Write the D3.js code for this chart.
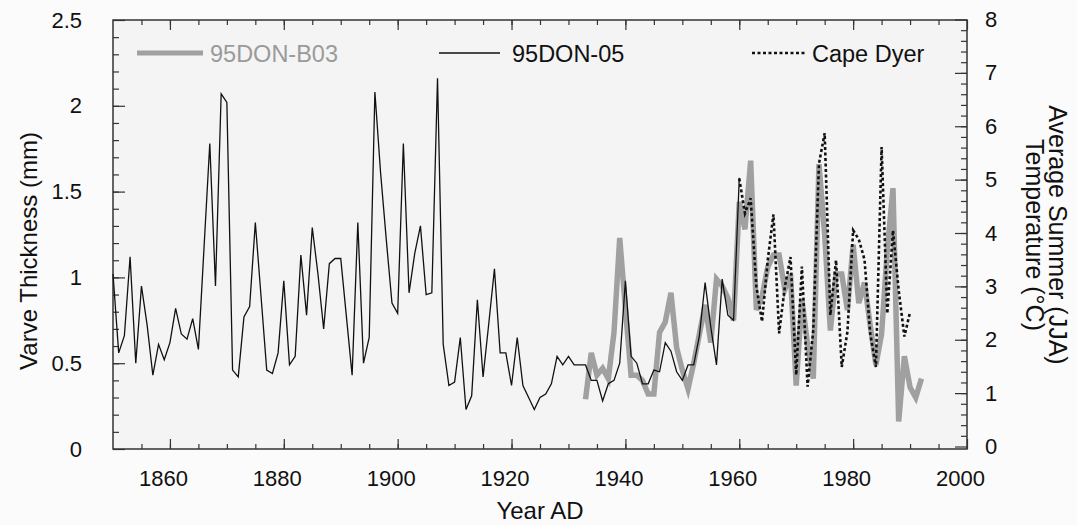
<!DOCTYPE html>
<meta charset="utf-8">
<style>
body { margin: 0; background: #fbfbfb; }
text { font-family: "Liberation Sans", Arial, sans-serif; fill: #111; }
.frame { fill: #f4f4f4; stroke: #333; stroke-width: 1.5; }
.axis line { stroke: #333; stroke-width: 1.2; }
.axis text { font-size: 22px; fill: #111; }
</style>

<script src="https://d3js.org/d3.v7.min.js"></script>

<body>
<script>

var width = 1077,
    height = 525;

// 95DON-05 varve thickness (mm), 1850-1960
var donYears = d3.range(1850, 1961);
var don05 = [
  1.02, 0.56, 0.66, 1.12, 0.50, 0.95, 0.72, 0.43, 0.61, 0.52,
  0.62, 0.82, 0.67, 0.64, 0.76, 0.58, 1.18, 1.78, 0.95, 2.07,
  2.02, 0.46, 0.42, 0.77, 0.83, 1.32, 0.89, 0.46, 0.44, 0.56,
  0.98, 0.49, 0.54, 1.13, 0.78, 1.29, 1.02, 0.70, 1.08, 1.11,
  1.11, 0.77, 0.43, 1.32, 0.50, 0.65, 2.08, 1.61, 1.22, 0.85,
  0.79, 1.78, 0.91, 1.14, 1.30, 0.90, 0.91, 2.16, 0.61, 0.37,
  0.39, 0.65, 0.23, 0.31, 0.87, 0.42, 0.73, 1.05, 0.56, 0.56,
  0.37, 0.65, 0.37, 0.30, 0.23, 0.30, 0.32, 0.38, 0.54, 0.49,
  0.54, 0.49, 0.49, 0.49, 0.40, 0.40, 0.28, 0.38, 0.40, 0.50,
  0.98, 0.54, 0.50, 0.38, 0.38, 0.46, 0.45, 0.62, 0.57, 0.45,
  0.40, 0.49, 0.49, 0.66, 0.97, 0.71, 0.49, 0.99, 0.78, 0.75,
  1.58
];

// 95DON-B03 varve thickness (mm), 1933-1992
var b03Years = d3.range(1933, 1993);
var b03 = [
  0.29, 0.56, 0.43, 0.47, 0.41, 0.68, 1.23, 0.82, 0.43, 0.43,
  0.40, 0.32, 0.32, 0.68, 0.74, 0.91, 0.59, 0.46, 0.35, 0.50,
  0.67, 0.84, 0.62, 0.99, 0.95, 0.88, 0.75, 1.44, 1.28, 1.68,
  0.81, 0.89, 1.06, 1.13, 1.13, 0.93, 1.02, 0.37, 0.87, 0.61,
  0.41, 1.66, 1.25, 0.69, 1.02, 1.02, 0.81, 1.19, 0.85, 0.97,
  0.72, 0.49, 0.67, 1.16, 1.52, 0.16, 0.54, 0.36, 0.30, 0.41
];

// Cape Dyer JJA temperature (deg C), 1960-1990
var dyerYears = d3.range(1960, 1991);
var dyer = [
  5.02, 4.37, 4.65, 3.00, 2.34, 3.49, 4.35, 2.12, 2.99, 3.55,
  1.34, 3.37, 1.12, 2.18, 5.30, 5.87, 2.46, 3.49, 1.49, 2.15,
  4.05, 3.88, 3.50, 2.12, 1.49, 5.61, 2.49, 4.05, 2.93, 2.06,
  2.52
];

var xMajor = [1860, 1880, 1900, 1920, 1940, 1960, 1980, 2000];
var yLeftMajor = [0, 0.5, 1, 1.5, 2, 2.5];
var yRightMajor = [0, 1, 2, 3, 4, 5, 6, 7, 8];

var plotL = 113, plotR = 967, plotT = 20, plotB = 449;

var svg = d3.select("body").append("svg")
    .attr("width", width)
    .attr("height", height);

var x = d3.scaleLinear().domain([1850, 2000]).range([plotL, plotR]);
var y = d3.scaleLinear().domain([0, 2.5]).range([plotB, plotT]);
var y2 = d3.scaleLinear().domain([0, 8]).range([446.5, 19.5]);

svg.append("rect")
    .attr("class", "frame")
    .attr("x", plotL)
    .attr("y", plotT)
    .attr("width", plotR - plotL)
    .attr("height", plotB - plotT);

function tidy(g) { g.select(".domain").remove(); }

// bottom + top ticks
svg.append("g").attr("class", "axis")
    .attr("transform", "translate(0," + plotB + ")")
    .call(d3.axisBottom(x).tickValues(d3.range(1855, 2000, 5)).tickSize(-5).tickFormat(""))
    .call(tidy);
svg.append("g").attr("class", "axis")
    .attr("transform", "translate(0," + plotB + ")")
    .call(d3.axisBottom(x).tickValues(xMajor).tickSize(-10).tickPadding(21).tickFormat(String))
    .call(tidy)
    .selectAll("text").attr("dx", -7);
svg.append("g").attr("class", "axis")
    .attr("transform", "translate(0," + plotT + ")")
    .call(d3.axisTop(x).tickValues(d3.range(1855, 2000, 5)).tickSize(-5).tickFormat(""))
    .call(tidy);
svg.append("g").attr("class", "axis")
    .attr("transform", "translate(0," + plotT + ")")
    .call(d3.axisTop(x).tickValues(xMajor).tickSize(-10).tickFormat(""))
    .call(tidy);

// left axis
svg.append("g").attr("class", "axis")
    .attr("transform", "translate(" + plotL + ",0)")
    .call(d3.axisLeft(y).tickValues(d3.range(0.1, 2.5, 0.1)).tickSize(-6).tickFormat(""))
    .call(tidy);
svg.append("g").attr("class", "axis")
    .attr("transform", "translate(" + plotL + ",0)")
    .call(d3.axisLeft(y).tickValues(yLeftMajor).tickSize(-12).tickPadding(31).tickFormat(String))
    .call(tidy);

// right axis
svg.append("g").attr("class", "axis")
    .attr("transform", "translate(" + plotR + ",0)")
    .call(d3.axisRight(y2).tickValues(d3.range(0.2, 8, 0.2)).tickSize(-6).tickFormat(""))
    .call(tidy);
svg.append("g").attr("class", "axis")
    .attr("transform", "translate(" + plotR + ",0)")
    .call(d3.axisRight(y2).tickValues(yRightMajor).tickSize(-12).tickPadding(18).tickFormat(String))
    .call(tidy);

var line = d3.line()
    .x(function(d) { return x(d[0]); })
    .y(function(d) { return y(d[1]); });

var line2 = d3.line()
    .x(function(d) { return x(d[0]); })
    .y(function(d) { return y2(d[1]); });

svg.append("path")
    .datum(d3.zip(b03Years, b03))
    .attr("fill", "none")
    .attr("stroke", "#a0a0a0")
    .attr("stroke-width", 5.5)
    .attr("d", line);

svg.append("path")
    .datum(d3.zip(donYears, don05))
    .attr("fill", "none")
    .attr("stroke", "#111")
    .attr("stroke-width", 1.3)
    .attr("d", line);

svg.append("path")
    .datum(d3.zip(dyerYears, dyer))
    .attr("fill", "none")
    .attr("stroke", "#111")
    .attr("stroke-width", 2.6)
    .attr("stroke-dasharray", "3,2.5")
    .attr("d", line2);

// legend
var legend = svg.append("g").attr("font-size", "23.5px");

legend.append("line")
    .attr("x1", 137).attr("x2", 203).attr("y1", 53).attr("y2", 53)
    .attr("stroke", "#a0a0a0").attr("stroke-width", 5);
legend.append("text")
    .attr("x", 210).attr("y", 61.5)
    .style("fill", "#9a9a9a")
    .text("95DON-B03");

legend.append("line")
    .attr("x1", 439).attr("x2", 500).attr("y1", 53).attr("y2", 53)
    .attr("stroke", "#111").attr("stroke-width", 1.3);
legend.append("text")
    .attr("x", 512).attr("y", 61.5)
    .text("95DON-05");

legend.append("line")
    .attr("x1", 752).attr("x2", 805).attr("y1", 53).attr("y2", 53)
    .attr("stroke", "#111").attr("stroke-width", 2.6)
    .attr("stroke-dasharray", "3,2.5");
legend.append("text")
    .attr("x", 812).attr("y", 61.5)
    .text("Cape Dyer");

// axis titles
svg.append("text")
    .attr("x", (plotL + plotR) / 2)
    .attr("y", 519)
    .attr("text-anchor", "middle")
    .attr("font-size", "24px")
    .text("Year AD");

svg.append("text")
    .attr("transform", "translate(37,251) rotate(-90)")
    .attr("text-anchor", "middle")
    .attr("font-size", "24px")
    .text("Varve Thickness (mm)");

svg.append("text")
    .attr("transform", "translate(1049,235) rotate(90)")
    .attr("text-anchor", "middle")
    .attr("font-size", "25px")
    .text("Average Summer (JJA)");

svg.append("text")
    .attr("transform", "translate(1026,235) rotate(90)")
    .attr("text-anchor", "middle")
    .attr("font-size", "25px")
    .text("Temperature (°C)");

</script>
